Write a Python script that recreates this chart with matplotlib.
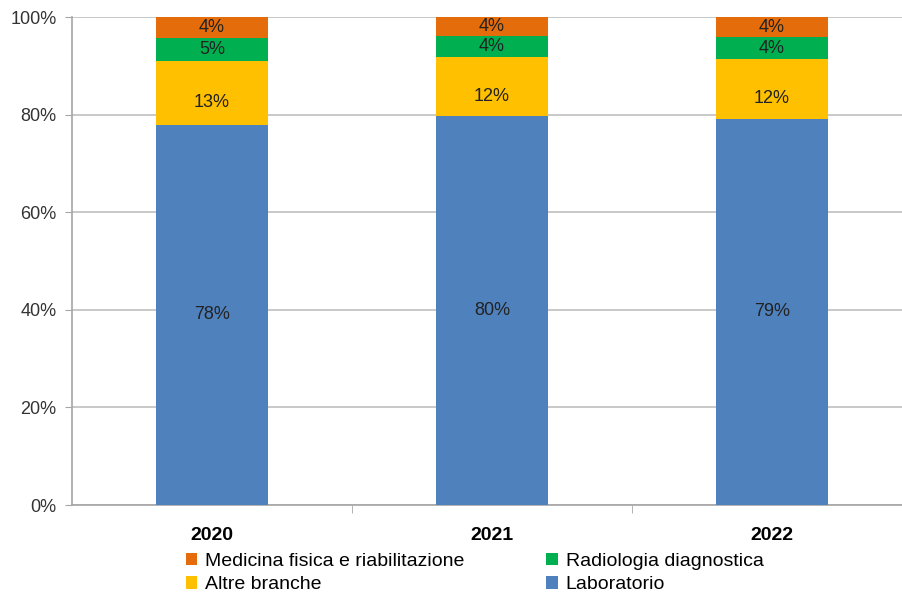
import numpy as np
import matplotlib.pyplot as plt
from matplotlib.ticker import FuncFormatter

plt.rcParams['font.family'] = ['Liberation Sans', 'DejaVu Sans']

# shares by year (percent)
years = ['2020', '2021', '2022']
laboratorio = [77.9, 79.8, 79.2]
altre_branche = [13.1, 12.0, 12.2]
radiologia = [4.6, 4.4, 4.4]
medicina_fisica = [4.4, 3.8, 4.2]

# name, values, colour, vertical nudge of the data label (points)
series = [
    ('Laboratorio', laboratorio, '#4F81BD', 0),
    ('Altre branche', altre_branche, '#FFC000', -7),
    ('Radiologia diagnostica', radiologia, '#00B050', 0),
    ('Medicina fisica e riabilitazione', medicina_fisica, '#E46C0A', 0),
]

fig = plt.figure(figsize=(9.03, 5.95), dpi=100)
ax = fig.add_axes([72 / 903, 90 / 595, 840 / 903, 488 / 595])

x = np.arange(len(years))
bottom = np.zeros(len(years))
handles = {}
for name, vals, color, nudge in series:
    vals = np.array(vals)
    bars = ax.bar(x, vals, 0.4, bottom=bottom, color=color, zorder=3, label=name)
    handles[name] = bars
    for xi, b, v in zip(x, bottom, vals):
        ax.annotate(f'{v:.0f}%', (xi, b + v / 2), xytext=(0, nudge),
                    textcoords='offset points', ha='center', va='center',
                    fontsize=13, color='#222222', zorder=4)
    bottom += vals

ax.set_xlim(-0.5, 2.5)
ax.set_ylim(0, 100)
ax.set_yticks(range(0, 101, 20))
ax.yaxis.set_major_formatter(FuncFormatter(lambda v, p: f'{v:.0f}%'))
ax.yaxis.grid(True, color='#BFBFBF', linewidth=1.2, zorder=0)

ax.set_xticks(x)
ax.set_xticklabels(years, fontsize=14, fontweight='bold')
ax.set_xticks([0.5, 1.5], minor=True)
ax.tick_params(axis='x', which='major', length=0, pad=16)
ax.tick_params(axis='x', which='minor', length=6, color='#A6A6A6')
ax.tick_params(axis='y', length=5, color='#A6A6A6', labelsize=13,
               labelcolor='#333333', pad=6)

for side in ['top', 'right']:
    ax.spines[side].set_visible(False)
for side in ['left', 'bottom']:
    ax.spines[side].set_color('#A6A6A6')
    ax.spines[side].set_linewidth(1.2)

order = ['Medicina fisica e riabilitazione', 'Altre branche',
         'Radiologia diagnostica', 'Laboratorio']
fig.legend([handles[n] for n in order], order, ncol=2, loc='upper left',
           bbox_to_anchor=(172 / 903, (595 - 539) / 595), frameon=False,
           fontsize=14, handlelength=0.6, handleheight=0.6, handletextpad=0.4,
           columnspacing=4.2, labelspacing=0.35, borderpad=0.2)

fig.savefig('out.png', dpi=100)
